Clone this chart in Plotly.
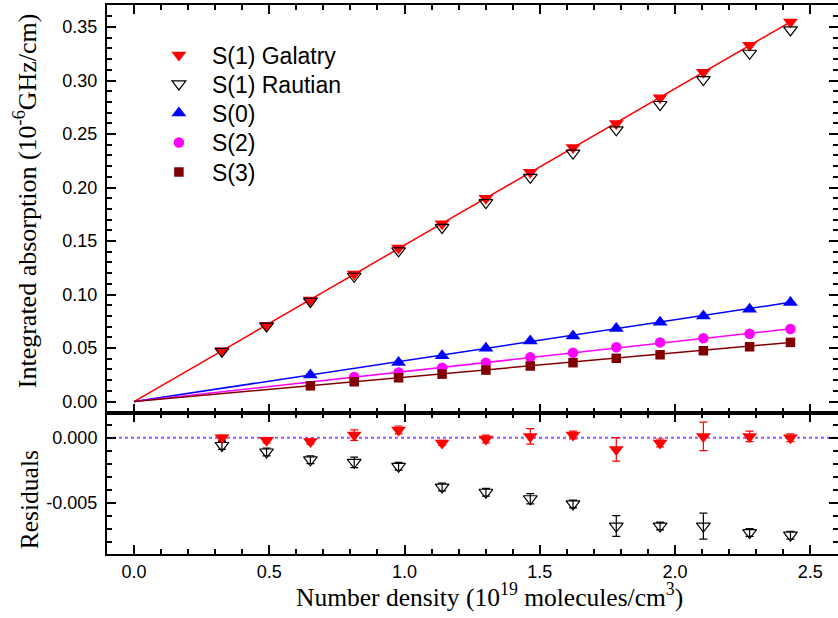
import plotly.graph_objects as go

# ---- data ----
density = [0.325, 0.490, 0.652, 0.814, 0.978, 1.139, 1.301, 1.465, 1.623, 1.783, 1.945, 2.105, 2.276, 2.427]

s1_galatry = [0.0475, 0.0714, 0.0950, 0.1192, 0.1436, 0.1661, 0.1901, 0.2143, 0.2375, 0.2598, 0.2840, 0.3078, 0.3329, 0.3548]
s1_rautian = [0.0469, 0.0705, 0.0936, 0.1171, 0.1408, 0.1627, 0.1860, 0.2095, 0.2322, 0.2539, 0.2776, 0.3009, 0.3255, 0.3473]

s0_density = [0.652, 0.978, 1.139, 1.301, 1.465, 1.623, 1.783, 1.945, 2.105, 2.276, 2.427]
s0_values = [0.0248, 0.0365, 0.0428, 0.0497, 0.0565, 0.0612, 0.0683, 0.0740, 0.0800, 0.0862, 0.0925]

s2_density = [0.814, 0.978, 1.139, 1.301, 1.465, 1.623, 1.783, 1.945, 2.105, 2.276, 2.427]
s2_values = [0.0230, 0.0271, 0.0316, 0.0363, 0.0413, 0.0456, 0.0507, 0.0553, 0.0591, 0.0634, 0.0678]

s3_density = [0.652, 0.814, 0.978, 1.139, 1.301, 1.465, 1.623, 1.783, 1.945, 2.105, 2.276, 2.427]
s3_values = [0.0147, 0.0185, 0.0222, 0.0256, 0.0294, 0.0332, 0.0363, 0.0404, 0.0437, 0.0475, 0.0512, 0.0553]

# linear fits through the origin (end points)
fit_x = [0.0, 2.427]
fit_s1 = [0.0, 0.3548]
fit_s0 = [0.0, 0.0927]
fit_s2 = [0.0, 0.0680]
fit_s3 = [0.0, 0.0553]

# residuals
res_galatry = [0.0000, -0.0002, -0.0003, 0.0002, 0.0006, -0.0004, -0.0001, 0.0001, 0.0002, -0.0009, -0.0004, 0.0001, 0.0001, 0.0000]
err_galatry = [0.0002, 0.0002, 0.0002, 0.0004, 0.0003, 0.0002, 0.0003, 0.0006, 0.0003, 0.0009, 0.0003, 0.0011, 0.0004, 0.0003]
res_rautian = [-0.0006, -0.0011, -0.0017, -0.0019, -0.0022, -0.0038, -0.0042, -0.0047, -0.0051, -0.0068, -0.0068, -0.0068, -0.0073, -0.0075]
err_rautian = [0.0003, 0.0003, 0.0003, 0.0004, 0.0003, 0.0003, 0.0003, 0.0004, 0.0003, 0.0008, 0.0003, 0.0010, 0.0003, 0.0003]

main_tick_vals = [0.00, 0.05, 0.10, 0.15, 0.20, 0.25, 0.30, 0.35]
main_tick_text = ["0.00", "0.05", "0.10", "0.15", "0.20", "0.25", "0.30", "0.35"]
res_tick_vals = [0.000, -0.005]
res_tick_text = ["0.000", "-0.005"]
x_tick_vals = [0.0, 0.5, 1.0, 1.5, 2.0, 2.5]
x_tick_text = ["0.0", "0.5", "1.0", "1.5", "2.0", "2.5"]

RED = "#ff0000"
BLUE = "#0000ff"
MAG = "#ff00ff"
MAROON = "#800000"
SANS = "Liberation Sans, Arial, sans-serif"
SERIF = "Liberation Serif, Times New Roman, serif"

# figure geometry (pixels); the right frame line falls just outside the 838 px window
W, H = 840, 618
ML, MR, MT, MB = 107, 0, 5, 64
PW = W - ML - MR
PH = H - MT - MB


def px_x(p):
    return (p - ML) / PW


def px_y(p):
    return (H - MB - p) / PH


fig = go.Figure()

# fit lines (main panel)
for fy, col in [(fit_s1, RED), (fit_s0, BLUE), (fit_s2, MAG), (fit_s3, MAROON)]:
    fig.add_trace(go.Scatter(x=fit_x, y=fy, mode="lines", line=dict(color=col, width=1.5),
                             showlegend=False, hoverinfo="skip", xaxis="x", yaxis="y"))

fig.add_trace(go.Scatter(x=density, y=s1_galatry, mode="markers", name="S(1) Galatry", legend="legend",
                         marker=dict(symbol="triangle-down", color=RED, size=13, line=dict(width=0)),
                         xaxis="x", yaxis="y"))
fig.add_trace(go.Scatter(x=density, y=s1_rautian, mode="markers", name="S(1) Rautian", legend="legend2",
                         marker=dict(symbol="triangle-down-open", color="black", size=12, line=dict(width=1.2)),
                         xaxis="x", yaxis="y"))
fig.add_trace(go.Scatter(x=s0_density, y=s0_values, mode="markers", name="S(0)", legend="legend3",
                         marker=dict(symbol="triangle-up", color=BLUE, size=13, line=dict(width=0)),
                         xaxis="x", yaxis="y"))
fig.add_trace(go.Scatter(x=s2_density, y=s2_values, mode="markers", name="S(2)", legend="legend4",
                         marker=dict(symbol="circle", color=MAG, size=10.5, line=dict(width=0)),
                         xaxis="x", yaxis="y"))
fig.add_trace(go.Scatter(x=s3_density, y=s3_values, mode="markers", name="S(3)", legend="legend5",
                         marker=dict(symbol="square", color=MAROON, size=9.5, line=dict(width=0)),
                         xaxis="x", yaxis="y"))

# residual panel
fig.add_trace(go.Scatter(x=density, y=res_rautian, mode="markers", showlegend=False,
                         marker=dict(symbol="triangle-down-open", color="black", size=12, line=dict(width=1.2)),
                         error_y=dict(type="data", array=err_rautian, color="black", thickness=1.2, width=4),
                         xaxis="x2", yaxis="y2"))
fig.add_trace(go.Scatter(x=density, y=res_galatry, mode="markers", showlegend=False,
                         marker=dict(symbol="triangle-down", color=RED, size=13, line=dict(width=0)),
                         error_y=dict(type="data", array=err_galatry, color=RED, thickness=1.2, width=4),
                         xaxis="x2", yaxis="y2"))

fig.add_shape(type="line", xref="x2 domain", yref="y2", x0=0, x1=1, y0=0, y1=0,
              line=dict(color="#9955ff", width=2, dash="dot"), layer="below")

axis_common = dict(showline=True, linecolor="black", linewidth=2, mirror="allticks",
                   ticks="inside", ticklen=9, tickwidth=1.5, tickcolor="black",
                   showgrid=False, zeroline=False,
                   tickfont=dict(family=SANS, size=18, color="black"))
minor_common = dict(ticks="inside", ticklen=5, tickwidth=1.5, tickcolor="black")

split = (554 - 413) / PH
px_per_unit = 271.2
xr = [-0.1, -0.1 + PW / px_per_unit]

legend_rows = [55, 84, 113, 142.5, 172]


def legend_box(py):
    return dict(x=px_x(146), y=px_y(py), xanchor="left", yanchor="middle",
                bgcolor="rgba(0,0,0,0)", borderwidth=0, itemwidth=56,
                font=dict(family=SANS, size=23, color="black"))


fig.update_layout(
    width=W, height=H,
    margin=dict(l=ML, r=MR, t=MT, b=MB),
    paper_bgcolor="white", plot_bgcolor="white",
    xaxis=dict(domain=[0, 1], range=xr, anchor="y", matches="x2", showticklabels=False,
               tickvals=x_tick_vals, minor=dict(dtick=0.1, tick0=0, **minor_common), **axis_common),
    yaxis=dict(domain=[split, 1], range=[-0.0107, 0.3706], anchor="x",
               tickvals=main_tick_vals, ticktext=main_tick_text, ticklabelstandoff=4,
               minor=dict(dtick=0.01, tick0=0, **minor_common), **axis_common),
    xaxis2=dict(domain=[0, 1], range=xr, anchor="y2",
                tickvals=x_tick_vals, ticktext=x_tick_text, ticklabelstandoff=0,
                minor=dict(dtick=0.1, tick0=0, **minor_common), **axis_common),
    yaxis2=dict(domain=[0, split], range=[-0.00895, 0.0019], anchor="x2",
                tickvals=res_tick_vals, ticktext=res_tick_text, ticklabelstandoff=4,
                minor=dict(dtick=0.001, tick0=0, **minor_common), **axis_common),
    legend=legend_box(legend_rows[0]),
    legend2=legend_box(legend_rows[1]),
    legend3=legend_box(legend_rows[2]),
    legend4=legend_box(legend_rows[3]),
    legend5=legend_box(legend_rows[4]),
    showlegend=True,
)

fig.add_annotation(text="Integrated absorption (10<sup>-6</sup>GHz/cm)", xref="paper", yref="paper",
                   x=px_x(25), y=px_y(201), xanchor="center", yanchor="middle",
                   textangle=-90, showarrow=False, font=dict(family=SERIF, size=26, color="black"))
fig.add_annotation(text="Residuals", xref="paper", yref="paper",
                   x=px_x(29), y=px_y(500), xanchor="center", yanchor="middle",
                   textangle=-90, showarrow=False, font=dict(family=SERIF, size=25.5, color="black"))
fig.add_annotation(text="Number density (10<sup>19</sup> molecules/cm<sup>3</sup>)", xref="paper", yref="paper",
                   x=px_x(491), y=px_y(595), xanchor="center", yanchor="middle",
                   showarrow=False, font=dict(family=SERIF, size=25.5, color="black"))

fig.write_html("out.html", config={"displayModeBar": False},
               post_script="document.body.style.margin='0px';document.body.style.overflow='hidden';")
